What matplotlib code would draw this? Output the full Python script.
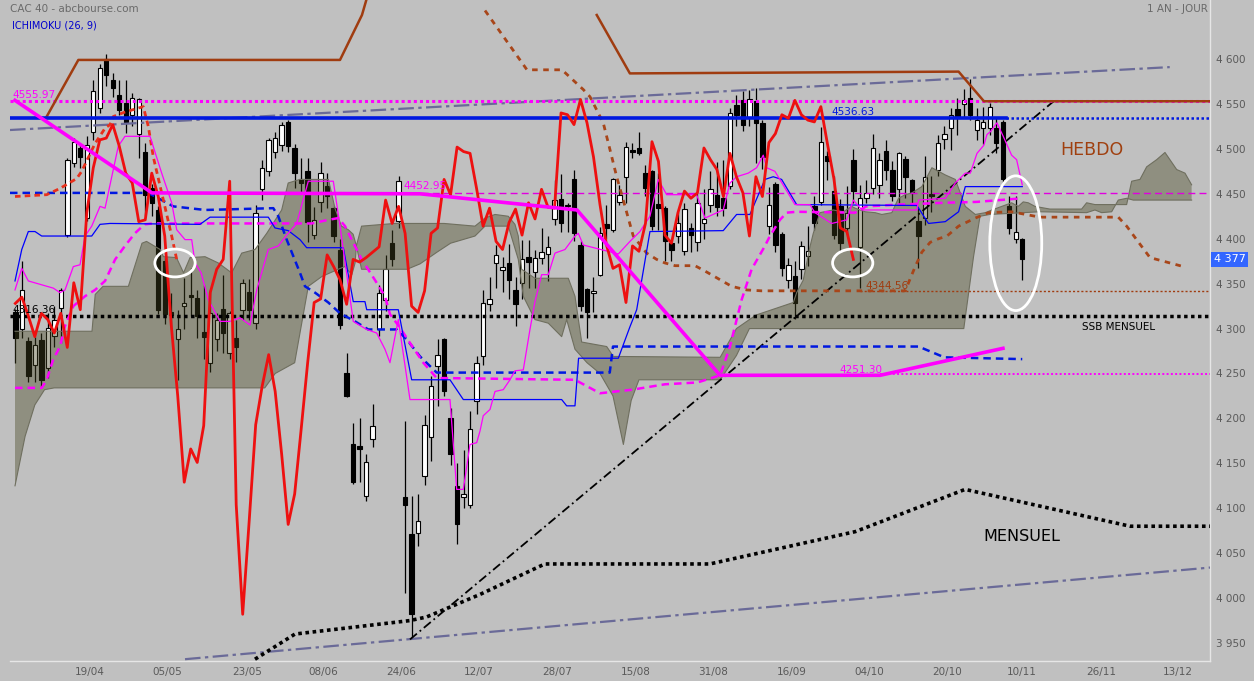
import numpy as np
import matplotlib
matplotlib.use('Agg')
import matplotlib.pyplot as plt
from matplotlib.patches import Ellipse

# Bougies journalieres (index = jour de cotation, 0 = 01/04)
ouverture = [4318, 4299, 4286, 4260, 4287, 4256, 4292, 4323, 4404, 4484, 4501, 4423, 4519, 4545, 4600, 4577,
             4560, 4551, 4538, 4517, 4497, 4456, 4432, 4375, 4318, 4288, 4325, 4337, 4334, 4296, 4262, 4288,
             4322, 4273, 4290, 4321, 4341, 4306, 4455, 4475, 4496, 4504, 4530, 4501, 4466, 4475, 4404, 4441,
             4459, 4434, 4388, 4251, 4171, 4169, 4114, 4177, 4299, 4332, 4395, 4420, 4112, 4071, 4072, 4136,
             4179, 4258, 4288, 4201, 4125, 4113, 4104, 4219, 4269, 4327, 4373, 4365, 4373, 4343, 4351, 4380,
             4363, 4379, 4383, 4422, 4444, 4438, 4467, 4393, 4344, 4340, 4360, 4416, 4410, 4441, 4469, 4499,
             4501, 4473, 4475, 4439, 4434, 4395, 4403, 4386, 4412, 4396, 4418, 4437, 4449, 4445, 4459, 4549,
             4554, 4535, 4553, 4529, 4414, 4461, 4405, 4354, 4358, 4366, 4381, 4436, 4441, 4492, 4453, 4436,
             4412, 4488, 4391, 4445, 4456, 4460, 4498, 4477, 4455, 4489, 4465, 4420, 4423, 4450, 4477, 4511,
             4523, 4544, 4550, 4557, 4521, 4523, 4523, 4523, 4530, 4436, 4400, 4400]
plus_haut = [4322, 4375, 4291, 4291, 4295, 4317, 4325, 4345, 4490, 4512, 4505, 4514, 4577, 4595, 4606, 4584,
             4577, 4577, 4562, 4557, 4506, 4461, 4436, 4380, 4340, 4321, 4356, 4367, 4343, 4349, 4343, 4317,
             4360, 4320, 4310, 4355, 4355, 4437, 4488, 4512, 4519, 4530, 4532, 4505, 4490, 4490, 4435, 4485,
             4473, 4436, 4400, 4273, 4195, 4201, 4160, 4216, 4349, 4382, 4410, 4470, 4197, 4114, 4116, 4204,
             4247, 4288, 4290, 4212, 4150, 4165, 4208, 4270, 4343, 4357, 4393, 4380, 4394, 4357, 4399, 4399,
             4388, 4412, 4403, 4465, 4472, 4440, 4477, 4397, 4345, 4357, 4413, 4437, 4468, 4460, 4508, 4506,
             4519, 4482, 4477, 4473, 4436, 4397, 4430, 4440, 4418, 4451, 4455, 4475, 4485, 4488, 4545, 4560,
             4564, 4565, 4568, 4532, 4458, 4463, 4407, 4378, 4375, 4398, 4414, 4448, 4524, 4498, 4470, 4444,
             4459, 4500, 4460, 4465, 4517, 4495, 4510, 4486, 4497, 4492, 4466, 4434, 4492, 4470, 4515, 4525,
             4546, 4557, 4567, 4578, 4545, 4547, 4551, 4534, 4532, 4447, 4447, 4401]
plus_bas = [4262, 4290, 4240, 4240, 4234, 4245, 4280, 4284, 4402, 4480, 4479, 4420, 4510, 4540, 4570, 4558,
            4538, 4518, 4525, 4490, 4425, 4425, 4316, 4305, 4300, 4243, 4299, 4314, 4290, 4266, 4252, 4275,
            4273, 4266, 4263, 4310, 4310, 4299, 4443, 4470, 4490, 4498, 4496, 4457, 4450, 4396, 4400, 4430,
            4434, 4396, 4299, 4224, 4127, 4129, 4108, 4168, 4292, 4320, 4370, 4412, 4006, 3956, 4058, 4126,
            4153, 4214, 4225, 4148, 4060, 4100, 4100, 4205, 4260, 4320, 4345, 4341, 4333, 4303, 4333, 4345,
            4345, 4372, 4353, 4415, 4408, 4408, 4398, 4320, 4290, 4318, 4358, 4400, 4408, 4437, 4440, 4490,
            4493, 4448, 4410, 4410, 4375, 4375, 4395, 4382, 4385, 4386, 4400, 4430, 4425, 4425, 4455, 4525,
            4520, 4525, 4484, 4478, 4405, 4385, 4358, 4345, 4311, 4355, 4370, 4410, 4438, 4465, 4400, 4385,
            4405, 4440, 4345, 4440, 4450, 4445, 4465, 4442, 4440, 4445, 4440, 4367, 4415, 4430, 4470, 4500,
            4499, 4515, 4535, 4532, 4510, 4505, 4515, 4495, 4460, 4405, 4395, 4354]
cloture = [4290, 4343, 4247, 4282, 4243, 4301, 4310, 4343, 4488, 4508, 4491, 4504, 4564, 4590, 4582, 4568,
           4543, 4530, 4557, 4555, 4449, 4440, 4321, 4316, 4315, 4299, 4328, 4335, 4314, 4291, 4317, 4310,
           4295, 4317, 4279, 4351, 4321, 4429, 4479, 4510, 4512, 4527, 4503, 4473, 4462, 4419, 4421, 4473,
           4447, 4403, 4304, 4225, 4129, 4166, 4151, 4192, 4340, 4366, 4377, 4464, 4104, 3982, 4086, 4193,
           4236, 4271, 4230, 4160, 4082, 4116, 4188, 4262, 4329, 4333, 4382, 4369, 4354, 4327, 4377, 4374,
           4379, 4385, 4391, 4443, 4417, 4436, 4406, 4325, 4318, 4342, 4406, 4412, 4466, 4449, 4502, 4497,
           4495, 4456, 4414, 4434, 4397, 4388, 4418, 4433, 4404, 4440, 4422, 4455, 4435, 4434, 4540, 4538,
           4527, 4555, 4529, 4491, 4438, 4393, 4367, 4371, 4329, 4392, 4386, 4417, 4508, 4486, 4404, 4395,
           4429, 4453, 4445, 4451, 4501, 4488, 4477, 4447, 4495, 4469, 4451, 4403, 4469, 4447, 4507, 4517,
           4538, 4534, 4554, 4538, 4532, 4530, 4547, 4506, 4467, 4412, 4408, 4377]

# Tenkan (9) et Kijun (26)
tenkan_j = [-0.05, 0.99, 2.0, 5.85, 6.88, 7.65, 8.93, 9.96, 10.73, 11.76, 13.04, 13.81, 15.85, 16.88, 20.73,
            22.53, 24.07, 24.84, 26.12, 27.15, 27.66, 28.6, 29.71, 31.51, 33.05, 34.59, 36.12, 37.16, 38.94,
            40.48, 41.77, 43.31, 45.1, 48.95, 49.98, 52.02, 54.09, 55.63, 56.9, 57.67, 58.95, 60.75, 66.91,
            67.94, 68.96, 69.99, 71.02, 71.53, 72.03, 73.07, 73.84, 75.11, 76.14, 76.91, 78.19, 79.22, 79.99,
            81.02, 82.04, 83.07, 84.61, 86.15, 86.66, 87.43, 92.82, 94.61, 96.15, 97.69, 98.97, 100.26, 104.88,
            106.16, 108.97, 110.0, 111.03, 112.82, 114.11, 115.13, 115.65, 116.93, 120.01, 122.32, 123.09,
            125.67, 127.98, 129.0, 130.3, 138.78, 139.03, 143.15, 144.69, 146.23, 147.0, 148.03, 149.08,
            149.57, 150.08, 151.11, 152.07, 153.36, 154.13, 155.0]
tenkan_v = [4343, 4367, 4353, 4345, 4340, 4343, 4369, 4371, 4403, 4414, 4436, 4434, 4503, 4514, 4514,
            4473, 4440, 4410, 4399, 4399, 4373, 4362, 4332, 4308, 4308, 4312, 4304, 4343, 4388,
            4392, 4404, 4417, 4464, 4464, 4414, 4308, 4299, 4295, 4277, 4262, 4310, 4221, 4221,
            4121, 4121, 4171, 4173, 4186, 4203, 4210, 4230, 4232, 4243, 4253, 4254, 4299, 4330,
            4360, 4360, 4384, 4388, 4403, 4406, 4393, 4383, 4397, 4408, 4425, 4466, 4449, 4449,
            4423, 4432, 4462, 4469, 4473, 4479, 4493, 4479, 4475, 4438, 4438, 4429,
            4417, 4421, 4443, 4432, 4432, 4443, 4445, 4462, 4473, 4473, 4495, 4504,
            4516, 4519, 4529, 4514, 4493, 4488, 4460]
kijun_j = [-0.05, 0.99, 2.0, 3.03, 4.06, 11.76, 13.04, 14.58, 28.43, 29.97, 38.94, 39.97, 42.02, 43.82,
           44.85, 50.49, 52.02, 53.82, 54.09, 58.95, 61.01, 66.91, 68.96, 84.1, 84.87, 86.15, 86.7,
           92.82, 94.61, 95.65, 97.69, 108.97, 111.03, 113.08, 115.39, 116.67, 117.96, 120.27, 138.78,
           140.56, 143.15, 145.2, 146.23, 155.0]
kijun_v = [4353, 4388, 4408, 4408, 4403, 4403, 4416, 4417, 4416, 4424, 4424, 4412, 4409, 4399,
           4390, 4390, 4330, 4330, 4321, 4321, 4243, 4243, 4221, 4221, 4214, 4214, 4267,
           4267, 4302, 4321, 4408, 4409, 4427, 4427, 4466, 4469, 4466, 4438, 4437,
           4417, 4419, 4430, 4458, 4458]

# Nuage (bords haut et bas, decale de 26 jours)
nuage_haut_j = [-0.05, 11.8, 12.3, 13.5, 17.4, 19.5, 20.2, 22.3, 22.8, 24.8, 25.9, 26.9, 29.2, 31.25, 33.3,
                34.85, 36.9, 38.7, 41.0, 42.0, 43.8, 48.2, 49.2, 50.2, 51.25, 52.0, 52.5, 53.3, 58.4, 66.0,
                70.76, 72.3, 73.84, 75.88, 76.91, 77.42, 77.94, 79.99, 85.12, 86.15, 87.18, 91.03, 92.05,
                108.5, 111.0, 114.0, 119.75, 120.27, 121.29, 122.32, 122.83, 123.86, 125.92, 127.46, 128.75,
                129.27, 130.81, 132.35, 133.38, 134.92, 135.95, 136.98, 138.01, 139.54, 141.09, 142.12,
                143.15, 144.69, 145.46, 146.23, 147.77, 149.31, 150.34, 153.36, 154.38, 155.15, 155.92,
                156.95, 159.26, 164.14, 164.91, 166.19, 171.07, 171.84, 173.12, 174.15, 175.69, 176.97,
                178.77, 180.05, 181.07]
nuage_haut_v = [4297, 4297, 4338, 4347, 4347, 4395, 4397, 4388, 4380, 4379, 4362, 4379, 4380, 4373, 4362,
                4384, 4388, 4406, 4432, 4462, 4466, 4466, 4434, 4414, 4410, 4405, 4392, 4414, 4417, 4417,
                4414, 4423, 4427, 4425, 4416, 4403, 4366, 4356, 4356, 4336, 4285, 4280, 4269,
                4268, 4300, 4315, 4329, 4340, 4354, 4391, 4406, 4429, 4432, 4430, 4436,
                4434, 4430, 4429, 4427, 4429, 4445, 4449, 4451, 4458, 4479, 4475,
                4471, 4466, 4451, 4436, 4427, 4429, 4432, 4440, 4436, 4441, 4440,
                4436, 4433, 4433, 4440, 4438, 4438, 4464, 4466, 4480, 4488, 4496,
                4477, 4473, 4460]
nuage_bas_j = [-0.05, 1.5, 3.0, 4.5, 6.0, 38.4, 40.0, 43.0, 45.1, 47.2, 49.7, 50.75, 51.8, 52.3, 52.5, 53.3,
               60.3, 62.3, 64.9, 67.0, 70.76, 72.3, 75.88, 77.42, 78.19, 79.99, 82.04, 84.1, 84.87, 86.15,
               88.0, 90.0, 92.0, 93.6, 94.8, 96.0, 108.5, 111.0, 113.0, 146.0, 147.5, 148.5, 150.0, 157.72,
               164.91, 166.19, 167.22, 168.76, 169.78, 171.07, 172.09, 181.07]
nuage_bas_v = [4125, 4180, 4215, 4232, 4234, 4234, 4250, 4262, 4347, 4358, 4366, 4369, 4360, 4373, 4392, 4366,
               4366, 4372, 4385, 4395, 4403, 4414, 4414, 4377, 4336, 4310, 4306, 4291, 4310, 4277,
               4262, 4250, 4225, 4171, 4220, 4243, 4243, 4270, 4300, 4300, 4380, 4425, 4427, 4430,
               4429, 4432, 4429, 4430, 4443, 4445, 4443, 4443]

# Lignes hebdo / mensuelles et traces
bleu_tirets_j = [-0.82, 20.47, 21.5, 23.3, 24.32, 29.2, 39.71, 40.48, 41.77, 43.82, 44.59, 46.13, 48.18, 49.98,
                 52.29, 54.33, 58.7, 60.24, 62.29, 64.86, 91.5, 92.0, 139.03, 143.0, 155.0]
bleu_tirets_v = [4451, 4451, 4447, 4440, 4436, 4432, 4434, 4425, 4399, 4362, 4347, 4340, 4329, 4317,
                 4308, 4299, 4299, 4288, 4269, 4251, 4251, 4280, 4280, 4268, 4266]
rose_tirets_j = [-0.05, 4.06, 4.83, 5.85, 6.88, 7.65, 8.93, 10.73, 12.27, 13.81, 15.37, 16.88, 18.4, 19.9, 21.2,
                 45.62, 48.18, 49.72, 50.75, 51.78, 53.32, 55.36, 56.9, 57.67, 59.21, 60.75, 62.8, 64.86, 86.15,
                 90.0, 95.0, 100.0, 105.0, 108.5, 110.0, 111.8, 113.34, 115.39, 116.16, 117.7, 118.73, 120.27,
                 129.27, 131.0, 136.0, 143.0, 148.0, 155.0]
rose_tirets_v = [4234, 4234, 4243, 4266, 4280, 4303, 4325, 4336, 4343, 4353, 4377, 4392, 4406, 4416, 4417,
                 4417, 4421, 4423, 4414, 4399, 4377, 4354, 4336, 4316, 4301, 4284, 4262, 4245, 4243,
                 4228, 4232, 4238, 4240, 4248, 4280, 4332, 4366, 4392, 4403, 4421, 4429, 4430,
                 4429, 4436, 4438, 4440, 4441, 4445]
rouge_tirets_j = [-0.05, 4.83, 6.88, 9.45, 10.22, 12.27, 13.81, 14.58, 15.08, 16.88, 19.7, 20.47, 21.24, 22.53,
                  24.07, 24.84, 25.0]
rouge_tirets_v = [4447, 4449, 4456, 4467, 4475, 4506, 4523, 4527, 4536, 4541, 4547, 4525, 4491, 4451,
                  4403, 4377, 4374]
brun_tirets_j = [72.3, 78.76, 84.15, 87.43, 88.46, 90.5, 91.54, 92.57, 93.58, 95.12, 97.18, 98.72, 100.0, 101.54,
                 104.62, 106.16, 110.26, 112.57, 114.88, 136.98, 138.52, 139.54, 140.83, 142.12, 143.41,
                 145.2, 147.77, 149.82, 153.36, 157.72, 169.78, 171.07, 172.6, 174.66, 176.71, 179.79]
brun_tirets_v = [4654, 4588, 4588, 4566, 4558, 4529, 4499, 4469, 4443, 4403, 4384, 4377, 4373, 4370,
                 4370, 4364, 4347, 4343, 4342, 4342, 4369, 4385, 4396, 4400, 4403,
                 4414, 4423, 4429, 4430, 4424, 4424, 4414, 4399, 4379, 4375, 4369]
brun_gauche_j = [4.83, 9.7, 49.98, 53.36, 54.2]
brun_gauche_v = [4536, 4599, 4599, 4649, 4670]
brun_droite_j = [89.5, 94.6, 145.2, 149.1, 183.9]
brun_droite_v = [4649, 4584, 4586, 4553, 4553]
mensuel_j = [36.89, 43.05, 60.75, 63.3, 71.5, 81.5, 106.9, 129.3, 146.2, 171.6, 183.9]
mensuel_v = [3932, 3960, 3975, 3979, 4004, 4038, 4038, 4074, 4121, 4080, 4080]
rose_epais_j = [-0.05, 21.04, 62.3, 86.46, 108.47, 133.12, 152.03]
rose_epais_v = [4554, 4451, 4450, 4432, 4248, 4248, 4278]

# niveaux horizontaux
niv_rose = 4553.5
niv_bleu = 4534
niv_noir = 4314.5
niv_brun = 4341.5
niv_rose_bas = 4249
niv_rose_mil = 4451

dates = ['19/04', '05/05', '23/05', '08/06', '24/06', '12/07', '28/07', '15/08', '31/08',
         '16/09', '04/10', '20/10', '10/11', '26/11', '13/12']
dates_pos = [11.5, 23.35, 35.66, 47.36, 59.37, 71.37, 83.38, 95.54, 107.39, 119.55, 131.4, 143.4,
             154.95, 167.11, 178.96]
prix = np.arange(3950, 4601, 50)

fond = '#c0c0c0'
fig = plt.figure(figsize=(12.54, 6.81), dpi=100, facecolor=fond)
ax = fig.add_axes([10 / 1254, 20 / 681, 1200 / 1254, 661 / 681], facecolor=fond)

jours = np.arange(len(cloture))
o = np.array(ouverture, float)
c = np.array(cloture, float)
h = np.array(plus_haut, float)
b = np.array(plus_bas, float)
hausse = c >= o

# bougies
ax.vlines(jours, b, h, color='black', lw=0.9, zorder=2)
ax.bar(jours[hausse], (c - o)[hausse], bottom=o[hausse], width=0.68, color='white',
       edgecolor='black', lw=0.8, zorder=2)
ax.bar(jours[~hausse], (o - c)[~hausse], bottom=c[~hausse], width=0.68, color='black',
       edgecolor='black', lw=0.8, zorder=2)

# nuage
poly_x = list(nuage_haut_j) + list(nuage_bas_j[::-1])
poly_y = list(nuage_haut_v) + list(nuage_bas_v[::-1])
ax.fill(poly_x, poly_y, color=(70 / 255, 70 / 255, 32 / 255), alpha=0.4, lw=0, zorder=3)
ax.plot(nuage_haut_j, nuage_haut_v, color='#6f6f5f', lw=0.8, zorder=3)
ax.plot(nuage_bas_j, nuage_bas_v, color='#6f6f5f', lw=0.8, zorder=3)

# trendlines
ax.plot([-0.82, 177.7], [4521, 4591], color='#6a6a98', lw=1.6, ls=(0, (7, 2, 1.5, 2)), zorder=4)
ax.plot([26.12, 183.9], [3932, 4034], color='#6a6a98', lw=1.6, ls=(0, (7, 2, 1.5, 2)), zorder=4)
ax.plot([60.75, 160.0], [3954, 4554], color='black', lw=1.3, ls=(0, (5, 2, 1, 2)), zorder=4)

# horizontales
ax.axhline(niv_rose, color='#ff00ff', lw=2.2, ls=(0, (1, 1)), zorder=4)
ax.plot([-0.82, 152.5], [niv_bleu, niv_bleu], color='#0018e0', lw=2.6, zorder=5)
ax.plot([152.5, 183.9], [niv_bleu, niv_bleu], color='#0018e0', lw=1.8, ls=(0, (1, 1)), zorder=5)
ax.axhline(niv_noir, color='black', lw=2.5, ls=(0, (1, 1)), zorder=4)
ax.plot([130, 183.9], [niv_brun, niv_brun], color='#a03c10', lw=1.0, ls=(0, (1.5, 1.5)), zorder=4)
ax.plot([133.1, 183.9], [niv_rose_bas, niv_rose_bas], color='#ff00ff', lw=1.4, ls=(0, (1, 1.2)), zorder=4)
ax.plot([59, 183.9], [niv_rose_mil, niv_rose_mil], color='#e000e0', lw=1.0, ls=(0, (5, 3)), zorder=4)

# lignes hebdo / mensuel
ax.plot(mensuel_j, mensuel_v, color='black', lw=2.6, ls=(0, (1, 1)), zorder=4)
ax.plot(bleu_tirets_j, bleu_tirets_v, color='#0018e0', lw=1.8, ls=(0, (3, 2)), zorder=4)
ax.plot(rose_tirets_j, rose_tirets_v, color='#ff00ff', lw=1.8, ls=(0, (3, 2)), zorder=4)
ax.plot(rouge_tirets_j, rouge_tirets_v, color='#e8301c', lw=2.0, ls=(0, (2, 1.5)), zorder=4)
ax.plot(brun_tirets_j, brun_tirets_v, color='#a8461a', lw=2.0, ls=(0, (2, 2)), zorder=4)
ax.plot(brun_gauche_j, brun_gauche_v, color='#a03c10', lw=1.8, zorder=4)
ax.plot(brun_droite_j, brun_droite_v, color='#a03c10', lw=1.8, zorder=4)

# ichimoku
ax.plot(kijun_j, kijun_v, color='#0000ff', lw=0.9, zorder=5)
ax.plot(tenkan_j, tenkan_v, color='#ff00ff', lw=0.9, zorder=5)
chikou_j = jours[26:] - 26
ax.plot(chikou_j, c[26:], color='#ee1010', lw=2.0, zorder=6)
ax.plot(rose_epais_j, rose_epais_v, color='#ff00ff', lw=2.6, zorder=6)

# ellipses
for xc, yc, w, hh in [(24.58, 4373, 6.2, 31), (128.9, 4373, 6.2, 31), (154.0, 4395, 8.0, 150)]:
    ax.add_patch(Ellipse((xc, yc), w, hh, fill=False, edgecolor='white', lw=2, zorder=7))

# textes
txt = dict(fontsize=7.5, va='center', ha='left', zorder=8)
ax.text(-0.5, 4560, '4555.97', color='#ff00ff', **txt)
ax.text(125.7, 4541, '4536.63', color='#0018e0', **txt)
ax.text(59.7, 4459, '4452.95', color='#ff00ff', **txt)
ax.text(130.8, 4347, '4344.56', color='#a03c10', **txt)
ax.text(126.9, 4254, '4251.30', color='#ff00ff', **txt)
ax.text(-0.5, 4321, '4316.36', color='black', **txt)
ax.text(164.2, 4302, 'SSB MENSUEL', color='black', **txt)
ax.text(160.8, 4499, 'HEBDO', color='#a0400f', fontsize=12.5, va='center', ha='left', zorder=8)
ax.text(148.95, 4069, 'MENSUEL', color='black', fontsize=11.5, va='center', ha='left', zorder=8)
ax.text(0.0, 0.986, 'CAC 40 - abcbourse.com', transform=ax.transAxes, color='#6a6a6a', fontsize=7.5,
        va='center', ha='left')
ax.text(0.002, 0.962, 'ICHIMOKU (26, 9)', transform=ax.transAxes, color='#0000cc', fontsize=7,
        va='center', ha='left')
ax.text(0.998, 0.986, '1 AN - JOUR', transform=ax.transAxes, color='#6a6a6a', fontsize=7.5,
        va='center', ha='right')

# dernier cours
ax.text(1.003, c[-1], '4 377', transform=ax.get_yaxis_transform(), color='white', fontsize=8,
        va='center', ha='left', zorder=9,
        bbox=dict(boxstyle='square,pad=0.25', fc='#3366ff', ec='none'))

ax.set_xlim(-0.82, 183.9)
ax.set_ylim(3930, 4665.7)
ax.set_xticks(dates_pos)
ax.set_xticklabels(dates)
ax.set_yticks(prix)
ax.set_yticklabels([f'{p // 1000} {p % 1000:03d}' for p in prix])
ax.yaxis.tick_right()
ax.tick_params(axis='both', length=0, labelsize=7.5, labelcolor='#5a5a5a')
ax.tick_params(axis='x', pad=4)
ax.tick_params(axis='y', pad=4)
for s in ['top', 'left']:
    ax.spines[s].set_visible(False)
for s in ['right', 'bottom']:
    ax.spines[s].set_color('#e6e6e6')
    ax.spines[s].set_linewidth(1)

fig.savefig('out.png', dpi=100, facecolor=fond)
